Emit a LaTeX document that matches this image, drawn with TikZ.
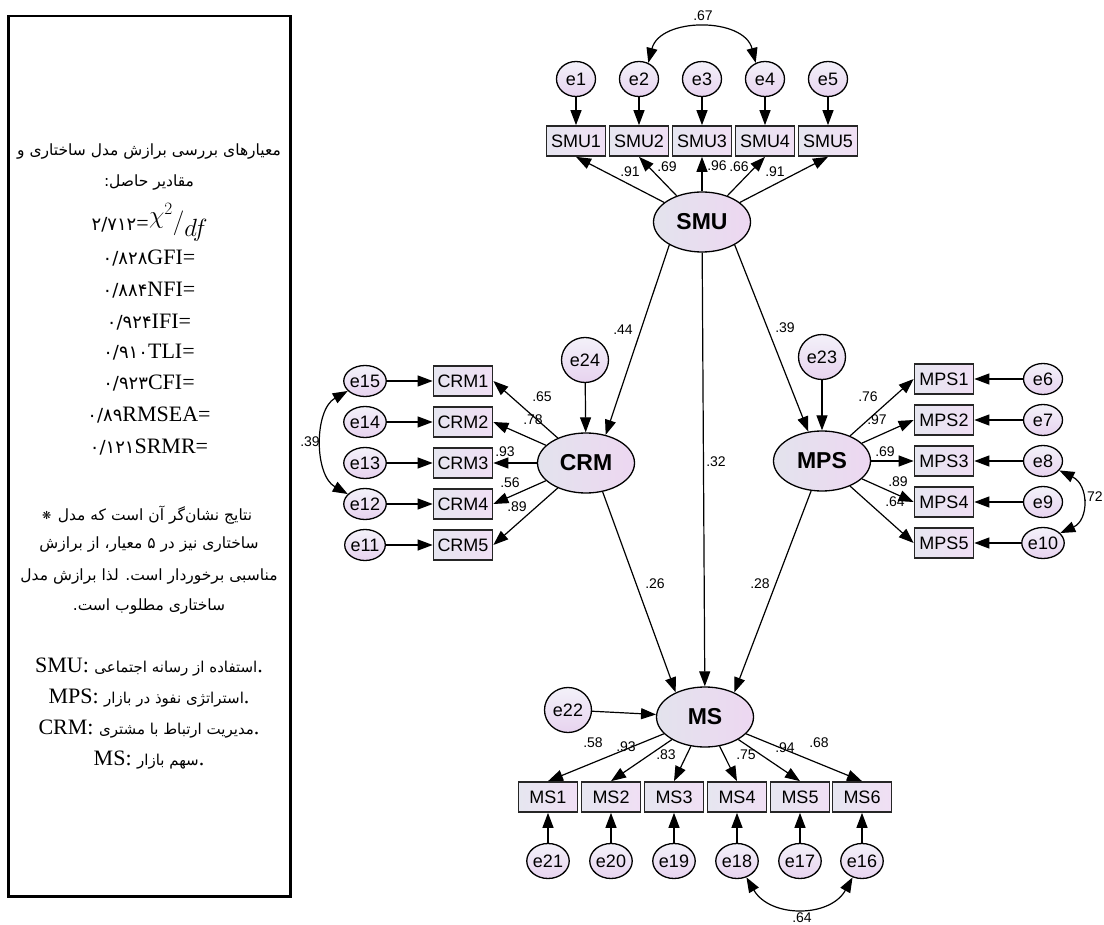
\documentclass[tikz,border=0pt]{standalone}
\usepackage{fontspec}
\setmainfont{Liberation Serif}
\newfontfamily\arabicfont[Script=Arabic]{DejaVu Sans}
\newfontfamily\arialfont{Liberation Sans}
\newfontfamily\symfont{DejaVu Sans}
\TeXXeTstate=1
\usetikzlibrary{arrows.meta,shapes.geometric}
\definecolor{boxl}{RGB}{230,230,240}
\definecolor{boxr}{RGB}{240,223,244}
\definecolor{errt}{RGB}{243,241,249}
\definecolor{errb}{RGB}{231,211,239}
\definecolor{latl}{RGB}{227,227,237}
\definecolor{latr}{RGB}{237,215,241}
\newcommand{\fa}[1]{{\arabicfont\fontsize{18}{18}\selectfont #1}}

\begin{document}
\begin{tikzpicture}[x=1pt,y=-1pt,>={Triangle[length=15pt,width=11pt]},
  every node/.style={font=\arialfont\fontsize{18}{18}\selectfont},
  obs/.style={rectangle,draw=black!85,line width=1.7pt,minimum width=59pt,minimum height=30pt,inner sep=0pt,left color=boxl,right color=boxr},
  err/.style={ellipse,draw,line width=1.3pt,minimum width=39pt,minimum height=35pt,inner sep=0pt,top color=errt,bottom color=errb},
  sideerr/.style={err,minimum height=31pt},
  res/.style={err,minimum width=47pt,minimum height=45pt},
  lat/.style={ellipse,draw,line width=1.3pt,minimum width=97pt,minimum height=60pt,inner sep=0pt,left color=latl,right color=latr,font=\arialfont\bfseries\fontsize{23}{23}\selectfont},
  coef/.style={font=\arialfont\fontsize{14}{14}\selectfont,inner sep=0pt},
  lnk/.style={->,line width=1.2pt},
  cov/.style={<->,line width=1.2pt},
  ptxt/.style={font=\arabicfont\fontsize{15.5}{15.5}\selectfont,inner sep=0pt},
  ltxt/.style={font=\fontsize{22}{22}\selectfont,inner sep=0pt}]

\useasboundingbox (0,0) rectangle (1104,925);

% legend box
\draw[line width=2.6pt] (8.5,16) rectangle (290.5,896.5);
\node[ptxt] (h1) at (149,152) {\beginR معیارهای بررسی برازش مدل ساختاری و\endR};
\node[ptxt] (h2) at (149,183) {\beginR مقادیر حاصل:\endR};
\node[ltxt,anchor=east] (chiv) at (149,225) {\fa{۲/۷۱۲}=};
\node[ltxt,anchor=west,font=\fontsize{24}{24}\selectfont] (chi) at (149,222) {$\raisebox{6pt}{$\chi^2$}\Big/\raisebox{-7pt}{$df$}$};
\node[ltxt] (gfi) at (149,258) {\fa{۰/۸۲۸}GFI=};
\node[ltxt] (nfi) at (149,290) {\fa{۰/۸۸۴}NFI=};
\node[ltxt] (ifi) at (149,322) {\fa{۰/۹۲۴}IFI=};
\node[ltxt] (tli) at (149,352) {\fa{۰/۹۱۰}TLI=};
\node[ltxt] (cfi) at (149,383) {\fa{۰/۹۲۳}CFI=};
\node[ltxt] (rmsea) at (149,415) {\fa{۰/۸۹}RMSEA=};
\node[ltxt] (srmr) at (149,447) {\fa{۰/۱۲۱}SRMR=};
\node[ptxt] (n1) at (155,515) {\beginR نتایج نشان‌گر آن است که مدل\endR};
\node[ptxt,anchor=east,font=\symfont\fontsize{11}{11}\selectfont] (star) at ([xshift=-6pt]n1.west) {❋};
\node[ptxt] (n2) at (149,545) {\beginR ساختاری نیز در ۵ معیار، از برازش\endR};
\node[ptxt] (n3) at (149,577) {\beginR مناسبی برخوردار است. لذا برازش مدل\endR};
\node[ptxt] (n4) at (149,607) {\beginR ساختاری مطلوب است.\endR};
\node[ltxt] (d1) at (149,667) {SMU: {\arabicfont\fontsize{15}{15}\selectfont\beginR استفاده از رسانه اجتماعی\endR}.};
\node[ltxt] (d2) at (149,698) {MPS: {\arabicfont\fontsize{15}{15}\selectfont\beginR استراتژی نفوذ در بازار\endR}.};
\node[ltxt] (d3) at (149,729) {CRM: {\arabicfont\fontsize{15}{15}\selectfont\beginR مدیریت ارتباط با مشتری\endR}.};
\node[ltxt] (d4) at (149,760) {MS: {\arabicfont\fontsize{15}{15}\selectfont\beginR سهم بازار\endR}.};

% latent variables
\node[lat] (smu) at (702,222) {SMU};
\node[lat] (crm) at (586,463) {CRM};
\node[lat] (mps) at (822,461) {MPS};
\node[lat] (ms) at (705,717) {MS};

% SMU
\node[obs] (smu1) at (576,141) {SMU1};
\node[obs] (smu2) at (639,141) {SMU2};
\node[obs] (smu3) at (702,141) {SMU3};
\node[obs] (smu4) at (765,141) {SMU4};
\node[obs] (smu5) at (828,141) {SMU5};
\node[err] (e1) at (576,79) {e1};
\node[err] (e2) at (639,79) {e2};
\node[err] (e3) at (702,79) {e3};
\node[err] (e4) at (765,79) {e4};
\node[err] (e5) at (828,79) {e5};

% CRM
\node[obs] (crm1) at (463,381) {CRM1};
\node[obs] (crm2) at (463,422) {CRM2};
\node[obs] (crm3) at (463,463) {CRM3};
\node[obs] (crm4) at (463,504) {CRM4};
\node[obs] (crm5) at (463,545) {CRM5};
\node[sideerr] (e15) at (365,381) {e15};
\node[sideerr] (e14) at (365,422) {e14};
\node[sideerr] (e13) at (365,463) {e13};
\node[sideerr] (e12) at (365,504) {e12};
\node[sideerr] (e11) at (365,545) {e11};
\node[res] (e24) at (585,360) {e24};

% MPS
\node[obs] (mps1) at (944,379) {MPS1};
\node[obs] (mps2) at (944,420) {MPS2};
\node[obs] (mps3) at (944,461) {MPS3};
\node[obs] (mps4) at (944,502) {MPS4};
\node[obs] (mps5) at (944,543) {MPS5};
\node[sideerr] (e6) at (1043,379) {e6};
\node[sideerr] (e7) at (1043,420) {e7};
\node[sideerr] (e8) at (1043,461) {e8};
\node[sideerr] (e9) at (1043,502) {e9};
\node[sideerr] (e10) at (1043,543) {e10};
\node[res] (e23) at (822,357) {e23};

% MS
\node[obs] (ms1) at (548,797) {MS1};
\node[obs] (ms2) at (611,797) {MS2};
\node[obs] (ms3) at (674,797) {MS3};
\node[obs] (ms4) at (737,797) {MS4};
\node[obs] (ms5) at (800,797) {MS5};
\node[obs] (ms6) at (862,797) {MS6};
\node[err] (e21) at (548,861) {e21};
\node[err] (e20) at (611,861) {e20};
\node[err] (e19) at (674,861) {e19};
\node[err] (e18) at (737,861) {e18};
\node[err] (e17) at (800,861) {e17};
\node[err] (e16) at (862,861) {e16};
\node[res] (e22) at (568,710) {e22};

% error terms
\draw[lnk] (e1) -- (smu1); \draw[lnk] (e2) -- (smu2); \draw[lnk] (e3) -- (smu3);
\draw[lnk] (e4) -- (smu4); \draw[lnk] (e5) -- (smu5);
\draw[lnk] (e15) -- (crm1); \draw[lnk] (e14) -- (crm2); \draw[lnk] (e13) -- (crm3);
\draw[lnk] (e12) -- (crm4); \draw[lnk] (e11) -- (crm5);
\draw[lnk] (e6) -- (mps1); \draw[lnk] (e7) -- (mps2); \draw[lnk] (e8) -- (mps3);
\draw[lnk] (e9) -- (mps4); \draw[lnk] (e10) -- (mps5);
\draw[lnk] (e21) -- (ms1); \draw[lnk] (e20) -- (ms2); \draw[lnk] (e19) -- (ms3);
\draw[lnk] (e18) -- (ms4); \draw[lnk] (e17) -- (ms5); \draw[lnk] (e16) -- (ms6);
\draw[lnk] (e24) -- (crm); \draw[lnk] (e23) -- (mps); \draw[lnk] (e22) -- (ms);

% loadings
\draw[lnk] (smu) -- (smu1.south); \draw[lnk] (smu) -- (smu2.south); \draw[lnk] (smu) -- (smu3.south);
\draw[lnk] (smu) -- (smu4.south); \draw[lnk] (smu) -- (smu5.south);
\draw[lnk] (crm) -- (crm1.east); \draw[lnk] (crm) -- (crm2.east); \draw[lnk] (crm) -- (crm3.east);
\draw[lnk] (crm) -- (crm4.east); \draw[lnk] (crm) -- (crm5.east);
\draw[lnk] (mps) -- (mps1.west); \draw[lnk] (mps) -- (mps2.west); \draw[lnk] (mps) -- (mps3.west);
\draw[lnk] (mps) -- (mps4.west); \draw[lnk] (mps) -- (mps5.west);
\draw[lnk] (ms) -- (ms1.north); \draw[lnk] (ms) -- (ms2.north); \draw[lnk] (ms) -- (ms3.north);
\draw[lnk] (ms) -- (ms4.north); \draw[lnk] (ms) -- (ms5.north); \draw[lnk] (ms) -- (ms6.north);

% structural paths
\draw[lnk] (smu.215) -- (crm.55);
\draw[lnk] (smu.325) -- (mps.115);
\draw[lnk] (smu) -- (ms);
\draw[lnk] (crm.300) -- (ms.140);
\draw[lnk] (mps.250) -- (ms.40);

% covariances
\draw[cov] (e2.60) .. controls (660,17) and (744,17) .. (e4.120);
\draw[cov] (e15.210) .. controls (314,410) and (314,475) .. (e12.150);
\draw[cov] (e8.330) .. controls (1089,485) and (1089,520) .. (e10.30);
\draw[cov] (e18.300) .. controls (770,918) and (830,918) .. (e16.240);

% estimates
\node[coef] (c67) at (703,16) {.67};
\node[coef] (c1) at (630,172) {.91};
\node[coef] (c2) at (667,167) {.69};
\node[coef] (c3) at (717,166) {.96};
\node[coef] (c4) at (739,167) {.66};
\node[coef] (c5) at (775,172) {.91};
\node[coef] (c44) at (623,330) {.44};
\node[coef] (c32) at (716,462) {.32};
\node[coef] (c39) at (785,328) {.39};
\node[coef] (c11) at (542,397) {.65};
\node[coef] (c12) at (533,420) {.78};
\node[coef] (c13) at (505,452) {.93};
\node[coef] (c14) at (510,483) {.56};
\node[coef] (c15) at (517,507) {.89};
\node[coef] (cov39) at (310,442) {.39};
\node[coef] (c6) at (868,397) {.76};
\node[coef] (c7) at (877,420) {.97};
\node[coef] (c8) at (885,452) {.69};
\node[coef] (c9) at (898,482) {.89};
\node[coef] (c10) at (895,502) {.64};
\node[coef] (cov72) at (1093,497) {.72};
\node[coef] (c26) at (655,584) {.26};
\node[coef] (c28) at (760,584) {.28};
\node[coef] (c21) at (593,743) {.58};
\node[coef] (c20) at (626,747) {.93};
\node[coef] (c19) at (666,755) {.83};
\node[coef] (c18) at (746,755) {.75};
\node[coef] (c17) at (785,748) {.94};
\node[coef] (c16) at (819,743) {.68};
\node[coef] (cov64) at (802,918) {.64};

\end{tikzpicture}
\end{document}
